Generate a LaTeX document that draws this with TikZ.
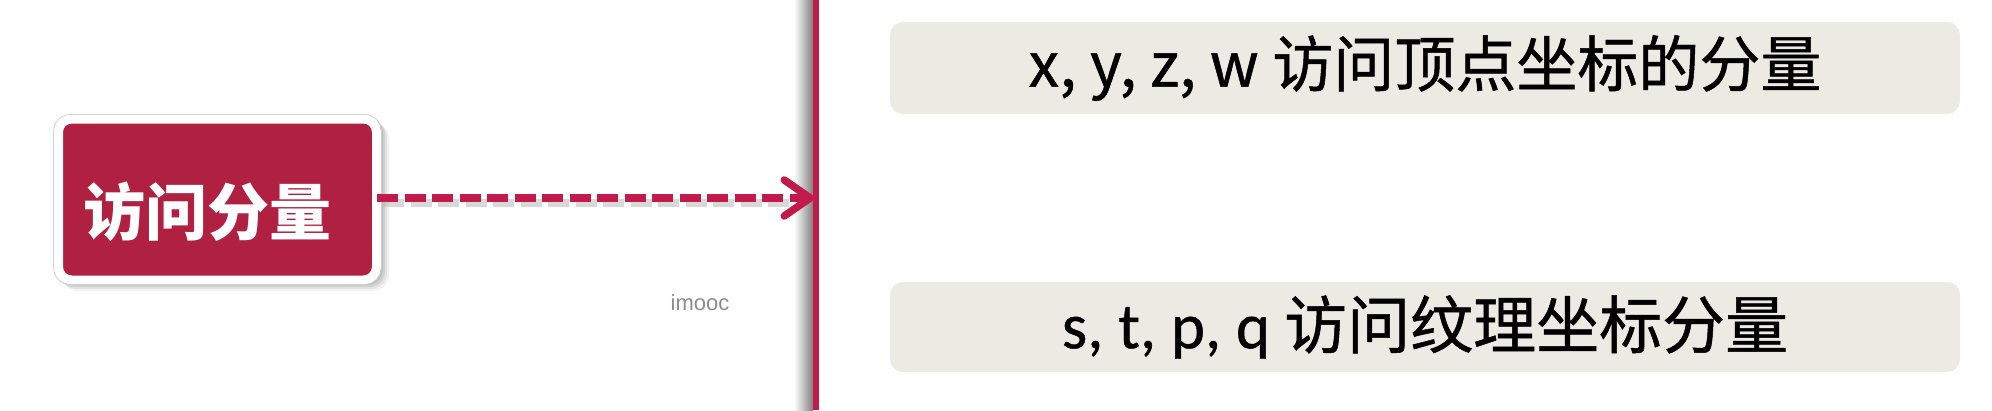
\documentclass[tikz,border=0pt]{standalone}
\usepackage{fontspec}
\setmainfont{Noto Sans CJK SC}
\newfontfamily\panelfont{Noto Sans CJK SC}[FakeBold=0.8]
\newfontfamily\carlito{Carlito}[FakeBold=0.6]
\newfontfamily\libsans{Liberation Sans}
\usetikzlibrary{arrows.meta}
\definecolor{boxred}{HTML}{B02041}
\definecolor{linered}{HTML}{C21A4A}
\definecolor{panel}{HTML}{EBEBE3}
\tikzset{
  redbox/.style={draw=white, line width=9pt, fill=boxred, rounded corners=13pt,
    inner sep=0pt, minimum width=318pt, minimum height=161pt},
  redlabel/.style={text=white, font=\fontsize{62}{62}\selectfont\bfseries, inner sep=0pt},
  panelbox/.style={fill=panel, rounded corners=13pt, inner sep=0pt,
    minimum width=1070pt, font=\panelfont\fontsize{61}{62}\selectfont, text=black},
  dasharrow/.style={draw=linered, line width=7.5pt, dash pattern=on 21pt off 6.5pt,
    -{Straight Barb[length=26pt, width=36pt, line cap=round, line join=round]}},
}
\begin{document}
\begin{tikzpicture}[x=1pt, y=-1pt]
\useasboundingbox (0,0) rectangle (1992,410);
\fill[white] (0,0) rectangle (1992,410);
% shadow of the vertical line
\shade[left color=white, right color=black!50] (794,0) rectangle (813,410);
% shadow of the red box
\foreach \o/\op in {10/0.05, 8/0.06, 6/0.08, 4/0.10}
  \fill[black, opacity=\op, rounded corners=16pt] (54+\o-2,116+\o-3) rectangle (381+\o-2,284+\o-3);
\node[redbox] (src) at (217.5,199.5) {};
\draw[black!18, line width=0.8pt, rounded corners=17pt] (53.5,114.5) rectangle (381.5,284.5);
\node[redlabel] (srclabel) at ([xshift=-10pt,yshift=-12pt]src.center) {访问分量};
% vertical line
\coordinate (ltop) at (816,0);
\coordinate (lbot) at (816,410);
\coordinate (hit) at (814,198);
% shadow under arrow
\draw[black!30, opacity=0.5, line width=8pt, dash pattern=on 21pt off 6.5pt]
  ([xshift=2pt,yshift=-5pt]src.east |- hit) -- ([xshift=-22pt,yshift=-5pt]hit);
\draw[dasharrow] ([xshift=-4pt]src.east |- hit) -- (hit);
\draw[linered, line width=6pt] (ltop) -- (lbot);
% panels
\node[panelbox, minimum height=92pt] (top) at (1425,68) {x, y, z, w 访问顶点坐标的分量};
\node[panelbox, minimum height=90pt, font=\panelfont\fontsize{63}{64}\selectfont] (bot) at (1425,327) {{\carlito\fontsize{65}{64}\selectfont s, t, p, q} 访问纹理坐标分量};
% watermark
\node[text=black!45, font=\libsans\fontsize{22}{22}\selectfont, inner sep=0pt] (wm) at (700,303) {imooc};
\end{tikzpicture}
\end{document}
